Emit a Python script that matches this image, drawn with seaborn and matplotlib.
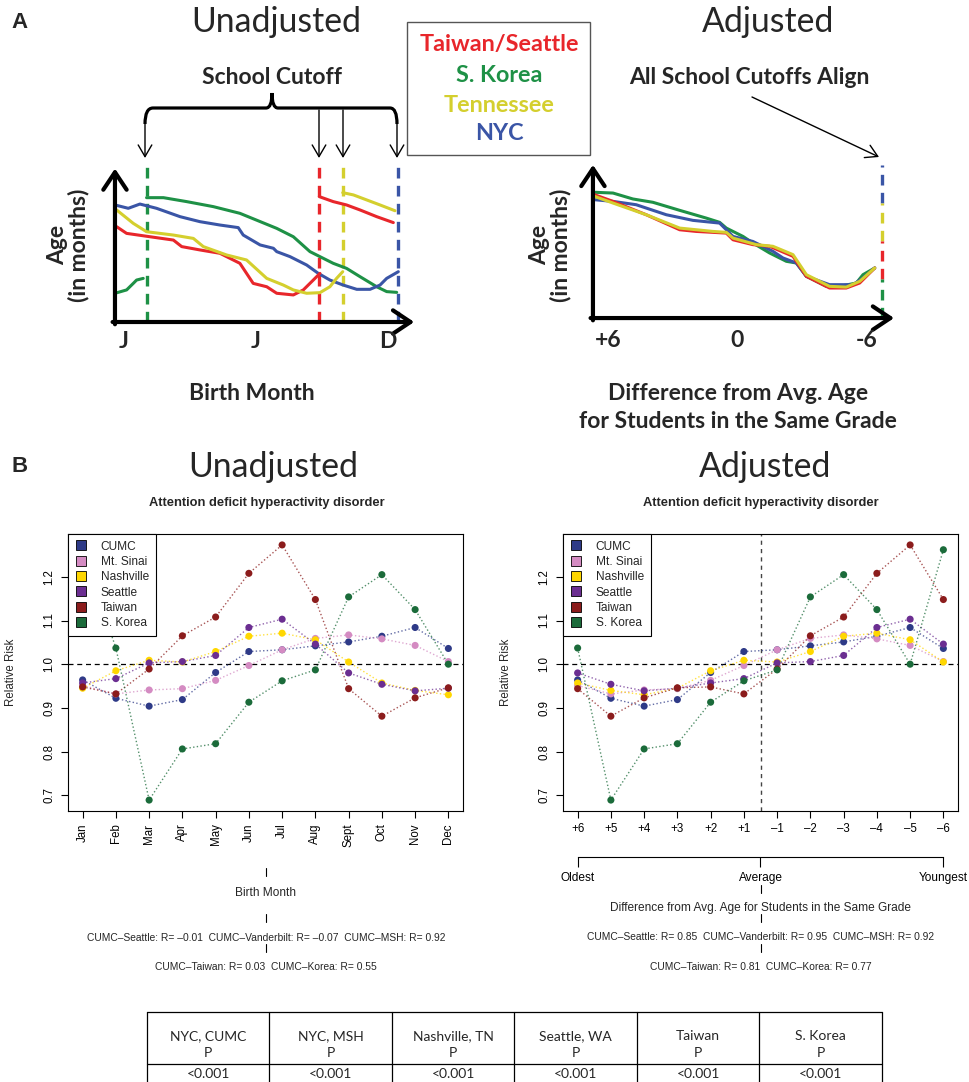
import numpy as np
import pandas as pd
import matplotlib
matplotlib.use("Agg")
import matplotlib.pyplot as plt
import seaborn as sns
from matplotlib.lines import Line2D
from matplotlib.patches import Rectangle, PathPatch
from matplotlib.path import Path as MPath

# --- figure geometry (pixels) ---
W, H = 969, 1082

# --- Panel A: schematic age curves (month of birth vs age, arbitrary units) ---
A_REGIONS = ['S. Korea', 'NYC', 'Taiwan/Seattle', 'Tennessee']
A_COLORS = ['#1E9146', '#3A55A6', '#E8262B', '#D4CF2E']
A_CUTOFFS = [1.35, 11.9, 8.6, 9.6]          # school cutoff month per region

green_l1_m = [0, 0.49, 0.77, 0.91, 1.19]
green_l1_a = [1.89, 2.11, 2.54, 2.76, 2.87]
green_l2_m = [1.33, 2.04, 3.02, 4.14, 5.26, 6.81, 7.51, 8.21, 8.63, 9.19, 9.75, 10.32, 11.02, 11.44, 11.86]
green_l2_a = [8.18, 8.18, 7.92, 7.59, 7.15, 6.16, 5.61, 4.63, 4.30, 3.86, 3.53, 2.98, 2.32, 2.00, 1.95]
blue_l_m = [0, 0.56, 1.05, 1.75, 2.74, 3.58, 4.42, 5.19, 5.40, 6.11, 6.67, 6.81, 7.37, 8.07, 8.56,
            9.05, 9.61, 10.18, 10.74, 11.16, 11.44, 11.93]
blue_l_a = [7.70, 7.48, 7.76, 7.48, 6.93, 6.60, 6.38, 6.21, 5.72, 5.07, 4.85, 4.63, 4.30, 3.75, 3.20,
            2.76, 2.43, 2.15, 2.15, 2.43, 2.87, 3.31]
red_l1_m = [0.07, 0.49, 1.47, 2.46, 2.81, 3.58, 4.42, 5.26, 5.82, 6.39, 6.81, 7.51, 7.93, 8.35, 8.63]
red_l1_a = [6.27, 5.83, 5.61, 5.39, 4.96, 4.74, 4.52, 3.86, 2.54, 2.32, 1.89, 1.78, 2.11, 2.76, 3.20]
red_l2_m = [8.60, 9.19, 9.75, 10.32, 11.02, 11.72]
red_l2_a = [8.25, 7.92, 7.70, 7.37, 6.93, 6.54]
yel_l1_m = [0.07, 0.77, 1.33, 2.46, 3.30, 3.72, 4.70, 5.54, 6.39, 7.09, 7.51, 8.07, 8.63, 9.05, 9.33, 9.59]
yel_l1_a = [7.37, 6.49, 5.94, 5.72, 5.50, 4.96, 4.41, 4.08, 2.87, 2.43, 2.11, 1.89, 1.93, 2.32, 2.87, 3.31]
yel_l2_m = [9.59, 10.04, 10.60, 11.16, 11.79]
yel_l2_a = [8.51, 8.36, 8.03, 7.70, 7.32]

green_r_m = [0.07, 0.84, 1.67, 2.51, 3.63, 4.74, 5.30, 5.58, 6.28, 6.69, 7.39, 8.09, 8.51, 8.93, 9.76,
             10.32, 11.02, 11.30, 11.79]
green_r_a = [8.29, 8.24, 7.85, 7.63, 7.10, 6.59, 6.31, 5.93, 5.38, 4.95, 4.29, 3.74, 3.63, 2.75, 2.09,
             2.09, 2.31, 2.86, 3.30]
blue_r_m = [0.07, 0.84, 1.81, 3.07, 4.18, 5.30, 5.86, 6.69, 7.53, 7.95, 8.51, 8.93, 9.90, 10.88, 11.30, 11.79]
blue_r_a = [7.80, 7.69, 7.47, 6.81, 6.44, 6.26, 5.38, 5.05, 4.40, 3.96, 3.63, 2.75, 2.20, 2.20, 2.64, 3.30]
red_r_m = [0.07, 0.84, 2.23, 3.63, 4.32, 5.58, 5.86, 6.69, 7.39, 8.37, 8.93, 9.90, 10.60, 11.16, 11.79]
red_r_a = [8.13, 7.69, 6.81, 5.82, 5.71, 5.60, 5.16, 4.84, 4.73, 4.07, 2.75, 1.98, 1.98, 2.31, 3.30]
yel_r_m = [0.07, 0.84, 2.23, 3.63, 5.02, 5.58, 5.86, 6.83, 7.53, 8.37, 8.93, 9.90, 10.60, 11.16, 11.79]
yel_r_a = [8.02, 7.58, 6.81, 5.93, 5.71, 5.65, 5.27, 4.84, 4.73, 4.18, 2.86, 2.09, 2.04, 2.42, 3.30]

# --- Panel B: relative risk of ADHD by birth month ---
SITES = ['CUMC', 'Mt. Sinai', 'Nashville', 'Seattle', 'Taiwan', 'S. Korea']
SITE_COLORS = ['#2E3A87', '#D48BC2', '#FFD700', '#6B2E91', '#8B1C1C', '#1B6B3A']
MONTHS = ['Jan', 'Feb', 'Mar', 'Apr', 'May', 'Jun', 'Jul', 'Aug', 'Sept', 'Oct', 'Nov', 'Dec']
DIFF_LABELS = ['+6', '+5', '+4', '+3', '+2', '+1', '\u20131', '\u20132', '\u20133', '\u20134', '\u20135', '\u20136']
# first (oldest) birth month of the school year at each site
OLDEST_MONTH = ['Jan', 'Jan', 'Oct', 'Sept', 'Sept', 'Feb']

rr_cumc = [0.964, 0.922, 0.904, 0.919, 0.981, 1.029, 1.033, 1.042, 1.051, 1.064, 1.084, 1.036]
rr_msh = [0.951, 0.932, 0.941, 0.944, 0.963, 0.997, 1.033, 1.059, 1.067, 1.058, 1.043, 1.006]
rr_nash = [0.945, 0.985, 1.009, 1.005, 1.029, 1.064, 1.071, 1.056, 1.005, 0.957, 0.940, 0.930]
rr_seattle = [0.957, 0.967, 1.003, 1.006, 1.020, 1.084, 1.103, 1.046, 0.980, 0.954, 0.939, 0.945]
rr_taiwan = [0.948, 0.932, 0.989, 1.065, 1.108, 1.208, 1.273, 1.148, 0.944, 0.881, 0.923, 0.946]
rr_korea = [1.262, 1.037, 0.689, 0.806, 0.818, 0.913, 0.962, 0.987, 1.154, 1.205, 1.125, 1.000]
RR = [rr_cumc, rr_msh, rr_nash, rr_seattle, rr_taiwan, rr_korea]

R_UNADJ_1 = 'CUMC\u2013Seattle: R= \u20130.01  CUMC\u2013Vanderbilt: R= \u20130.07  CUMC\u2013MSH: R= 0.92'
R_UNADJ_2 = 'CUMC\u2013Taiwan: R= 0.03  CUMC\u2013Korea: R= 0.55'
R_ADJ_1 = 'CUMC\u2013Seattle: R= 0.85  CUMC\u2013Vanderbilt: R= 0.95  CUMC\u2013MSH: R= 0.92'
R_ADJ_2 = 'CUMC\u2013Taiwan: R= 0.81  CUMC\u2013Korea: R= 0.77'

TABLE_SITES = ['NYC, CUMC', 'NYC, MSH', 'Nashville, TN', 'Seattle, WA', 'Taiwan', 'S. Korea']
TABLE_P = ['<0.001', '<0.001', '<0.001', '<0.001', '<0.001', '<0.001']

sns.set_theme(style='ticks', rc={'axes.edgecolor': 'black', 'xtick.color': 'black',
                                 'ytick.color': 'black', 'axes.linewidth': 0.8})
plt.rcParams['font.family'] = ['Liberation Sans', 'DejaVu Sans']
CAL = ['Lato', 'DejaVu Sans']
BIG = 16.5      # bold schematic labels


def pxbox(x0, y0, x1, y1):
    return [x0 / W, 1 - y1 / H, (x1 - x0) / W, (y1 - y0) / H]


def curves_frame(segments):
    rows = []
    for k, (region, m, a) in enumerate(segments):
        for mm, aa in zip(m, a):
            rows.append({'region': region, 'seg': k, 'month': mm, 'age': aa})
    return pd.DataFrame(rows)


def rr_frame(adjusted):
    rows = []
    for site, vals, first in zip(SITES, RR, OLDEST_MONTH):
        vals = np.roll(vals, -MONTHS.index(first)) if adjusted else np.asarray(vals)
        for pos, v in enumerate(vals, start=1):
            rows.append({'site': site, 'pos': pos, 'rr': v})
    return pd.DataFrame(rows)


fig = plt.figure(figsize=(W / 100, H / 100), dpi=100)


# ---------------- Panel A ----------------
def schematic(ax, frame):
    sns.lineplot(data=frame, x='month', y='age', hue='region', hue_order=A_REGIONS,
                 palette=A_COLORS, units='seg', estimator=None, sort=False,
                 lw=2.2, legend=False, ax=ax)
    ax.set_xlim(-0.5, 13.5)
    ax.set_ylim(-1.5, 11.5)
    ax.axis('off')
    arrow = dict(arrowstyle='->,head_length=0.45,head_width=0.3', lw=3, color='black',
                 mutation_scale=28, shrinkA=0, shrinkB=0)
    ax.annotate('', xy=(0, 10.1), xytext=(0, -0.15), arrowprops=arrow)
    ax.annotate('', xy=(12.6, 0), xytext=(-0.1, 0), arrowprops=arrow)


axA1 = fig.add_axes(pxbox(103.1, 147.2, 435.6, 344.8))
left_curves = curves_frame([
    ('S. Korea', green_l1_m, green_l1_a), ('S. Korea', green_l2_m, green_l2_a),
    ('NYC', blue_l_m, blue_l_a),
    ('Taiwan/Seattle', red_l1_m, red_l1_a), ('Taiwan/Seattle', red_l2_m, red_l2_a),
    ('Tennessee', yel_l1_m, yel_l1_a), ('Tennessee', yel_l2_m, yel_l2_a)])
schematic(axA1, left_curves)
for cut, col in zip(A_CUTOFFS, A_COLORS):
    axA1.plot([cut, cut], [0, 10.6], color=col, lw=2.4, ls=(0, (3.2, 2.2)), zorder=1)
for m, lab in zip([0.35, 5.94, 11.5], ['J', 'J', 'D']):
    axA1.text(m, -1.3, lab, ha='center', va='center', fontsize=BIG, fontweight='bold', family=CAL)

axA2 = fig.add_axes(pxbox(581.0, 143.6, 915.6, 340.8))
right_curves = curves_frame([
    ('S. Korea', green_r_m, green_r_a), ('NYC', blue_r_m, blue_r_a),
    ('Taiwan/Seattle', red_r_m, red_r_a), ('Tennessee', yel_r_m, yel_r_a)])
schematic(axA2, right_curves)
# all cutoffs fall on the same line after adjustment
for col, lo, hi in [('#3A55A6', 7.6, 10.1), ('#D4CF2E', 5.1, 7.6),
                    ('#E8262B', 2.6, 5.1), ('#1E9146', 0.0, 2.6)]:
    axA2.plot([12.1, 12.1], [lo, hi], color=col, lw=2.4, ls=(0, (3.2, 2.2)), zorder=1)
for m, lab in zip([0.63, 6.02, 11.45], ['+6', '0', '-6']):
    axA2.text(m, -1.5, lab, ha='center', va='center', fontsize=BIG, fontweight='bold', family=CAL)


# ---------------- Panel B ----------------
def rr_panel(ax, frame, labels, rotate):
    sns.lineplot(data=frame, x='pos', y='rr', hue='site', hue_order=SITES, palette=SITE_COLORS,
                 estimator=None, sort=False, linestyle=':', lw=1.0, alpha=0.75,
                 legend=False, ax=ax)
    sns.scatterplot(data=frame, x='pos', y='rr', hue='site', hue_order=SITES, palette=SITE_COLORS,
                    s=26, linewidth=0, legend=False, ax=ax, zorder=3)
    ax.axhline(1.0, color='black', lw=0.9, ls=(0, (4, 3)), zorder=1)
    ax.set_xlim(0.56, 12.44)
    ax.set_ylim(0.664, 1.298)
    ax.set_yticks([0.7, 0.8, 0.9, 1.0, 1.1, 1.2])
    ax.set_yticklabels(['0.7', '0.8', '0.9', '1.0', '1.1', '1.2'], rotation=90, va='center')
    ax.set_xticks(range(1, 13))
    ax.set_xticklabels(labels, rotation=90 if rotate else 0)
    ax.tick_params(direction='out', length=5, width=0.8, labelsize=8.3, pad=4)
    for sp in ax.spines.values():
        sp.set_visible(True)
        sp.set_linewidth(0.8)
    ax.set_xlabel('')
    ax.set_ylabel('Relative Risk', fontsize=8.3)
    ax.yaxis.set_label_coords(-0.128, 0.5)
    handles = [Line2D([], [], marker='s', ls='', mfc=c, mec='black', mew=0.6, ms=6.5)
               for c in SITE_COLORS]
    leg = ax.legend(handles, SITES, loc='upper left', borderaxespad=0, frameon=True,
                    fancybox=False, edgecolor='black', framealpha=1, fontsize=8.6,
                    handlelength=1.0, handletextpad=1.2, labelspacing=0.28,
                    borderpad=0.55)
    leg.get_frame().set_linewidth(0.8)


axB1 = fig.add_axes(pxbox(68, 534, 463, 811))
rr_panel(axB1, rr_frame(False), MONTHS, True)

axB2 = fig.add_axes(pxbox(563, 534, 958, 811))
rr_panel(axB2, rr_frame(True), DIFF_LABELS, False)
axB2.axvline(6.5, color='#444444', lw=1.0, ls=(0, (3, 3)), zorder=1)
sec = axB2.secondary_xaxis(-0.166)
sec.set_xticks([1, 6.5, 12])
sec.set_xticklabels(['Oldest', 'Average', 'Youngest'])
sec.tick_params(direction='out', length=7, width=0.8, labelsize=8.6, pad=4)
sec.spines['bottom'].set_bounds(1, 12)
sec.spines['bottom'].set_linewidth(0.8)

# ---------------- overlay: titles, braces, notes, table ----------------
ov = fig.add_axes([0, 0, 1, 1])
ov.set_xlim(0, W)
ov.set_ylim(H, 0)
ov.axis('off')
ov.patch.set_visible(False)

ov.text(20, 22, 'A', fontsize=16, fontweight='bold', ha='center', va='center')
ov.text(20, 466, 'B', fontsize=16, fontweight='bold', ha='center', va='center')
for x, y, s in [(276, 22, 'Unadjusted'), (768, 22, 'Adjusted'),
                (273, 467, 'Unadjusted'), (765, 467, 'Adjusted')]:
    ov.text(x, y, s, fontsize=24.3, ha='center', va='center', family=CAL)

# legend box of panel A
ov.add_patch(Rectangle((407, 22), 183, 133, fill=False, ec='#555555', lw=1))
for y, s, c in zip([45, 75, 105, 134], ['Taiwan/Seattle', 'S. Korea', 'Tennessee', 'NYC'],
                   ['#E8262B', '#1E9146', '#D4CF2E', '#3A55A6']):
    ov.text(499, y, s, color=c, fontsize=16.8, fontweight='bold', ha='center', va='center', family=CAL)

# school cutoff brace + arrows
ov.text(272, 77, 'School Cutoff', fontsize=BIG, fontweight='bold', ha='center', va='center', family=CAL)
brace = MPath([(145, 124), (145, 108), (153, 108), (266, 108), (272, 108), (272, 93),
               (272, 108), (278, 108), (390, 108), (397, 108), (397, 124)],
              [MPath.MOVETO, MPath.CURVE3, MPath.CURVE3, MPath.LINETO, MPath.CURVE3, MPath.CURVE3,
               MPath.CURVE3, MPath.CURVE3, MPath.LINETO, MPath.CURVE3, MPath.CURVE3])
ov.add_patch(PathPatch(brace, fill=False, lw=2.3, ec='black'))
thin = dict(arrowstyle='->,head_length=0.6,head_width=0.35', lw=1, color='black',
            mutation_scale=14, shrinkA=0, shrinkB=0)
for x, y0 in [(145, 122), (319, 110), (343, 110), (397, 122)]:
    ov.annotate('', xy=(x, 158), xytext=(x, y0), arrowprops=thin)

ov.text(749, 77, 'All School Cutoffs Align', fontsize=BIG, fontweight='bold',
        ha='center', va='center', family=CAL)
ov.annotate('', xy=(879, 157), xytext=(752, 97), arrowprops=thin)

ov.text(252, 393, 'Birth Month', fontsize=BIG, fontweight='bold', ha='center', va='center', family=CAL)
ov.text(738, 393, 'Difference from Avg. Age', fontsize=BIG, fontweight='bold',
        ha='center', va='center', family=CAL)
ov.text(738, 422, 'for Students in the Same Grade', fontsize=BIG, fontweight='bold',
        ha='center', va='center', family=CAL)
for x in [68, 550]:
    ov.text(x, 245, 'Age\n(in months)', fontsize=BIG, fontweight='bold', rotation=90,
            ha='center', va='center', multialignment='center', linespacing=0.95, family=CAL)

# panel B titles and notes
ov.text(267, 503, 'Attention deficit hyperactivity disorder', fontsize=9.3, fontweight='bold',
        ha='center', va='center')
ov.text(761, 503, 'Attention deficit hyperactivity disorder', fontsize=9.3, fontweight='bold',
        ha='center', va='center')
ov.text(266, 893, 'Birth Month', fontsize=8.6, ha='center', va='center')
ov.text(266, 938, R_UNADJ_1, fontsize=7.4, ha='center', va='center')
ov.text(266, 967, R_UNADJ_2, fontsize=7.4, ha='center', va='center')
ov.text(761, 908, 'Difference from Avg. Age for Students in the Same Grade', fontsize=8.6,
        ha='center', va='center')
ov.text(761, 937, R_ADJ_1, fontsize=7.4, ha='center', va='center')
ov.text(761, 967, R_ADJ_2, fontsize=7.4, ha='center', va='center')
for x, ys in [(266, [868, 914, 944]), (761, [885, 914, 944])]:
    for y in ys:
        ov.plot([x, x], [y, y + 8], color='black', lw=0.8)

# p-value table
tx0, tx1, ty0, ty_mid = 147, 882, 1012, 1064
cw = (tx1 - tx0) / len(TABLE_SITES)
ov.plot([tx0, tx1], [ty0, ty0], color='black', lw=0.9)
ov.plot([tx0, tx1], [ty_mid, ty_mid], color='black', lw=0.9)
for i in range(len(TABLE_SITES) + 1):
    ov.plot([tx0 + i * cw] * 2, [ty0, H], color='black', lw=0.9)
for i, (site, p) in enumerate(zip(TABLE_SITES, TABLE_P)):
    cx = tx0 + (i + 0.5) * cw
    ov.text(cx, 1036, site, fontsize=10, ha='center', va='center', family=CAL)
    ov.text(cx, 1053, 'P', fontsize=10, ha='center', va='center', family=CAL)
    ov.text(cx, 1074, p, fontsize=10, ha='center', va='center', family=CAL)

fig.savefig('out.png', dpi=100)
